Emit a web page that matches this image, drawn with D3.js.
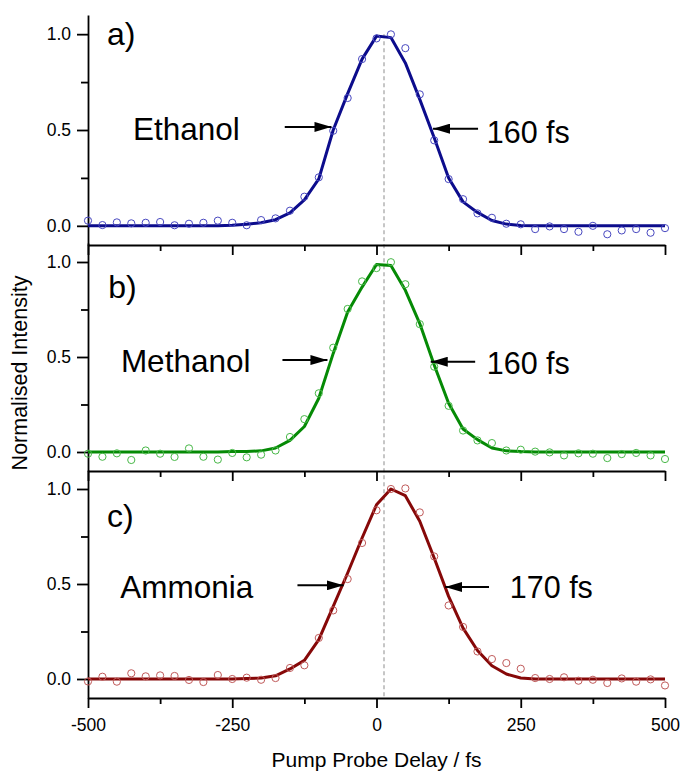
<!DOCTYPE html>
<html>
<head>
<meta charset="utf-8">
<script src="https://cdn.jsdelivr.net/npm/d3@7"></script>
<style>
  body { margin: 0; background: #fff; }
  svg { font-family: "Liberation Sans", Arial, sans-serif; }
  .axis path, .axis line { stroke: #000; stroke-width: 1.8; }
  .axis text { font-size: 17.5px; fill: #000; font-family: "Liberation Sans", Arial, sans-serif; }
</style>
</head>
<body>
<div id="chart"></div>
<script>
// Data
const delays = [-500, -475, -450, -425, -400, -375, -350, -325, -300, -275, -250, -225, -200, -175, -150, -125, -100, -75, -50, -25,
  0, 25, 50, 75, 100, 125, 150, 175, 200, 225, 250, 275, 300, 325, 350, 375, 400, 425, 450, 475, 500]

const ethanolData = [0.027, 0.004, 0.018, 0.013, 0.016, 0.020, 0.003, 0.011, 0.016, 0.027, 0.016, 0.003, 0.030, 0.039, 0.079, 0.152, 0.253, 0.496, 0.667, 0.870,
  0.978, 0.999, 0.927, 0.686, 0.446, 0.244, 0.139, 0.065, 0.042, 0.011, 0.008, -0.017, -0.003, -0.017, -0.031, 0.000, -0.044, -0.024, -0.017, -0.036, -0.012]
const ethanolFit = [0, 0, 0, 0, 0, 0, 0, 0, 0, 0, 0.003, 0.008, 0.016, 0.032, 0.068, 0.135, 0.245, 0.500, 0.690, 0.870,
  0.990, 0.982, 0.850, 0.660, 0.460, 0.250, 0.125, 0.070, 0.028, 0.009, 0.002, 0, 0, 0, 0, 0, 0, 0, 0, 0, 0]

const methanolData = [-0.009, -0.025, -0.007, -0.042, 0.008, -0.009, -0.026, 0.019, -0.025, -0.040, -0.005, -0.028, -0.014, 0.008, 0.079, 0.173, 0.309, 0.549, 0.753, 0.898,
  0.968, 0.999, 0.883, 0.673, 0.449, 0.243, 0.113, 0.061, 0.047, 0.008, 0.012, 0.002, -0.002, -0.018, -0.007, -0.009, -0.032, -0.011, -0.005, -0.018, -0.037]
const methanolFit = [0, 0, 0, 0, 0, 0, 0, 0, 0, 0, 0.002, 0.003, 0.006, 0.021, 0.061, 0.134, 0.283, 0.519, 0.737, 0.868,
  0.987, 0.982, 0.851, 0.676, 0.458, 0.257, 0.121, 0.065, 0.021, 0.006, 0.002, 0, 0, 0, 0, 0, 0, 0, 0, 0, 0]

const ammoniaData = [-0.013, 0.012, -0.014, 0.030, 0.014, 0.019, 0.016, -0.005, -0.016, 0.021, 0.000, 0.007, -0.004, 0.005, 0.058, 0.072, 0.216, 0.361, 0.526, 0.716,
  0.888, 1.000, 1.003, 0.877, 0.645, 0.387, 0.274, 0.145, 0.105, 0.084, 0.054, 0.005, 0.000, 0.009, -0.009, -0.004, -0.021, 0.003, -0.014, -0.002, -0.034]
const ammoniaFit = [0, 0, 0, 0, 0, 0, 0, 0, 0, 0, 0, 0.002, 0.005, 0.017, 0.053, 0.098, 0.207, 0.382, 0.558, 0.742,
  0.917, 1.000, 0.965, 0.830, 0.637, 0.435, 0.268, 0.150, 0.070, 0.026, 0.005, 0, 0, 0, 0, 0, 0, 0, 0, 0, 0]

const panelLetters = ['a)', 'b)', 'c)']
const molecules = ['Ethanol', 'Methanol', 'Ammonia']
const widths = ['160 fs', '160 fs', '170 fs']

const xTicks = [-500, -250, 0, 250, 500]
const xTickLabels = ['-500', '-250', '0', '250', '500']
const xMinorTicks = [-375, -125, 125, 375]
const yTicks = [0, 0.5, 1.0]
const yTickLabels = ['0.0', '0.5', '1.0']
const yMinorTicks = [0.25, 0.75]
const zeroDelay = 13

// annotation anchors in data units (fs, intensity)
const letterPos = [[-467, 0.944], [-465, 0.81], [-467, 0.80]]
const namePos = [[-422, 0.448], [-443, 0.421], [-444, 0.428]]
const widthPos = [[191, 0.432], [191, 0.411], [231, 0.428]]
const leftArrows = [[-159, -78, 0.516], [-163, -85, 0.484], [-137, -57, 0.493]]
const rightArrows = [[176, 98, 0.507], [171, 94, 0.475], [195, 119, 0.484]]

function draw(){
    const panels = [
        {data: ethanolData, fit: ethanolFit, line: '#0c0c8c', dot: '#4848c0', top: 15, bottom: 245},
        {data: methanolData, fit: methanolFit, line: '#058a05', dot: '#48b848', top: 243, bottom: 471},
        {data: ammoniaData, fit: ammoniaFit, line: '#860808', dot: '#c05a5a', top: 470, bottom: 698}
    ]

    let dimensions = {
        width: 684,
        height: 771,
        left: 88,
        right: 665
    }

    const svg = d3.select('#chart')
        .append('svg')
        .attr('width', dimensions.width)
        .attr('height', dimensions.height)

    svg.append('defs').append('marker')
        .attr('id', 'head')
        .attr('markerUnits', 'userSpaceOnUse')
        .attr('viewBox', '0 0 17 10')
        .attr('refX', 17)
        .attr('refY', 5)
        .attr('markerWidth', 17)
        .attr('markerHeight', 10)
        .attr('orient', 'auto')
        .append('path')
        .attr('d', 'M0,0 L17,5 L0,10 Z')
        .attr('fill', '#000')

    // Scales
    const xScale = d3.scaleLinear()
        .domain([-500, 500])
        .range([dimensions.left, dimensions.right])

    const yScales = panels.map(p => d3.scaleLinear()
        .domain([-0.1, 1.1])
        .range([p.bottom, p.top]))

    // zero delay marker
    svg.append('line')
        .attr('x1', xScale(zeroDelay))
        .attr('x2', xScale(zeroDelay))
        .attr('y1', yScales[0](1.0))
        .attr('y2', yScales[2](-0.1))
        .attr('stroke', '#b4b4b4')
        .attr('stroke-width', 1.5)
        .attr('stroke-dasharray', '4,3')

    panels.forEach((p, i) => {
        const yScale = yScales[i]
        const g = svg.append('g')

        // Axes
        const last = i === panels.length - 1
        g.append('g')
            .classed('axis', true)
            .attr('transform', `translate(0, ${p.bottom})`)
            .call(d3.axisBottom(xScale)
                .tickValues(xTicks)
                .tickSize(10)
                .tickSizeOuter(0)
                .tickPadding(11)
                .tickFormat((d, j) => last ? xTickLabels[j] : ''))
        g.append('g')
            .classed('axis', true)
            .attr('transform', `translate(0, ${p.bottom})`)
            .call(d3.axisBottom(xScale)
                .tickValues(xMinorTicks)
                .tickSize(6)
                .tickSizeOuter(0)
                .tickFormat(''))
            .select('.domain').remove()

        g.append('g')
            .classed('axis', true)
            .attr('transform', `translate(${dimensions.left}, 0)`)
            .call(d3.axisLeft(yScale)
                .tickValues(yTicks)
                .tickSize(11)
                .tickSizeOuter(0)
                .tickPadding(6)
                .tickFormat((d, j) => yTickLabels[j]))
        g.append('g')
            .classed('axis', true)
            .attr('transform', `translate(${dimensions.left}, 0)`)
            .call(d3.axisLeft(yScale)
                .tickValues(yMinorTicks)
                .tickSize(7)
                .tickSizeOuter(0)
                .tickFormat(''))
            .select('.domain').remove()

        // fit
        const line = d3.line()
            .x((d, j) => xScale(delays[j]))
            .y(d => yScale(d))
        g.append('path')
            .datum(p.fit)
            .attr('d', line)
            .attr('fill', 'none')
            .attr('stroke', p.line)
            .attr('stroke-width', 3)
            .attr('stroke-linejoin', 'round')

        // measured points
        g.selectAll('circle')
            .data(p.data)
            .join('circle')
            .attr('cx', (d, j) => xScale(delays[j]))
            .attr('cy', d => yScale(d))
            .attr('r', 3.6)
            .attr('fill', 'none')
            .attr('stroke', p.dot)
            .attr('stroke-width', 1)

        // labels
        g.append('text')
            .text(panelLetters[i])
            .attr('x', xScale(letterPos[i][0]))
            .attr('y', yScale(letterPos[i][1]))
            .attr('font-size', 32)
        g.append('text')
            .text(molecules[i])
            .attr('x', xScale(namePos[i][0]))
            .attr('y', yScale(namePos[i][1]))
            .attr('font-size', 31.5)
        g.append('text')
            .text(widths[i])
            .attr('x', xScale(widthPos[i][0]))
            .attr('y', yScale(widthPos[i][1]))
            .attr('font-size', 30.5)

        const arrows = [leftArrows[i], rightArrows[i]]
        g.selectAll('.arrow')
            .data(arrows)
            .join('line')
            .attr('class', 'arrow')
            .attr('x1', d => xScale(d[0]))
            .attr('x2', d => xScale(d[1]))
            .attr('y1', d => yScale(d[2]))
            .attr('y2', d => yScale(d[2]))
            .attr('stroke', '#000')
            .attr('stroke-width', 2)
            .attr('marker-end', 'url(#head)')
    })

    // Axis titles
    svg.append('text')
        .text('Pump Probe Delay / fs')
        .attr('x', xScale(0))
        .attr('y', 767)
        .attr('font-size', 21)
        .style('text-anchor', 'middle')

    svg.append('text')
        .text('Normalised Intensity')
        .attr('transform', 'translate(27, 373) rotate(-90)')
        .attr('font-size', 21.5)
        .style('text-anchor', 'middle')
}
draw()
</script>
</body>
</html>
